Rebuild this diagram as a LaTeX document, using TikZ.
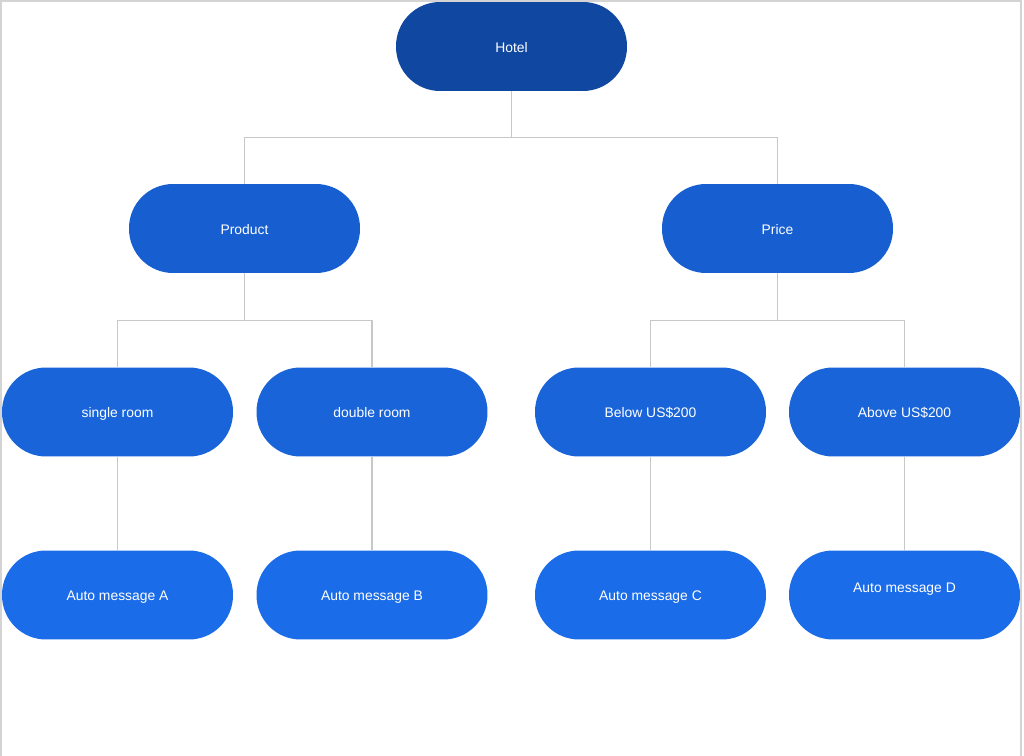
\documentclass[tikz,border=0pt]{standalone}
\usepackage{fontspec}
\setmainfont{Liberation Sans}
\usetikzlibrary{calc}

\definecolor{topblue}{RGB}{15,71,161}
\definecolor{midblue}{RGB}{23,94,208}
\definecolor{lowblue}{RGB}{24,100,216}
\definecolor{msgblue}{RGB}{27,108,232}
\definecolor{linkgray}{RGB}{200,200,200}
\definecolor{framegray}{RGB}{212,212,212}

\begin{document}
\begin{tikzpicture}[x=0.02cm,y=-0.02cm,
    pill/.style={rectangle,rounded corners=0.88cm,minimum width=4.62cm,
      minimum height=1.78cm,inner sep=0pt,text=white,
      text height=7.7pt,text depth=1.2pt,
      font=\fontsize{7.9}{9}\selectfont},
    link/.style={linkgray,line width=0.6pt}]
        \useasboundingbox (0,0) rectangle (1024,756);
        \fill[white] (0,0) rectangle (1024,756);
        \draw[framegray,line width=0.8pt] (1,756)--(1,1)--(1021,1)--(1021,756);

        % top
        \node[pill,fill=topblue] (hotel) at (511.5,46.5) {Hotel};

        % second row
        \node[pill,fill=midblue] (product) at (244.5,228.5) {Product};
        \node[pill,fill=midblue] (price) at (777.5,228.5) {Price};

        % third row
        \node[pill,fill=lowblue] (single) at (117.5,412) {single room};
        \node[pill,fill=lowblue] (double) at (372,412) {double room};
        \node[pill,fill=lowblue] (below) at (650.5,412) {Below US\$200};
        \node[pill,fill=lowblue] (above) at (904.5,412) {Above US\$200};

        % messages
        \node[pill,fill=msgblue] (msgA) at (117.5,595) {Auto message A};
        \node[pill,fill=msgblue] (msgB) at (372,595) {Auto message B};
        \node[pill,fill=msgblue] (msgC) at (650.5,595) {Auto message C};
        \node[pill,fill=msgblue,text depth=10.2pt] (msgD) at (904.5,595) {Auto message D};

        \draw[link] (hotel.south) -- ++(0,46) -| (product.north);
        \draw[link] (hotel.south) -- ++(0,46) -| (price.north);
        \draw[link] (product.south) -- ++(0,47) -| (single.north);
        \draw[link] (product.south) -- ++(0,47) -| (double.north);
        \draw[link] (price.south) -- ++(0,47) -| (below.north);
        \draw[link] (price.south) -- ++(0,47) -| (above.north);
        \draw[link] (single.south) -- (msgA.north);
        \draw[link] (double.south) -- (msgB.north);
        \draw[link] (below.south) -- (msgC.north);
        \draw[link] (above.south) -- (msgD.north);
    \end{tikzpicture}
\end{document}
